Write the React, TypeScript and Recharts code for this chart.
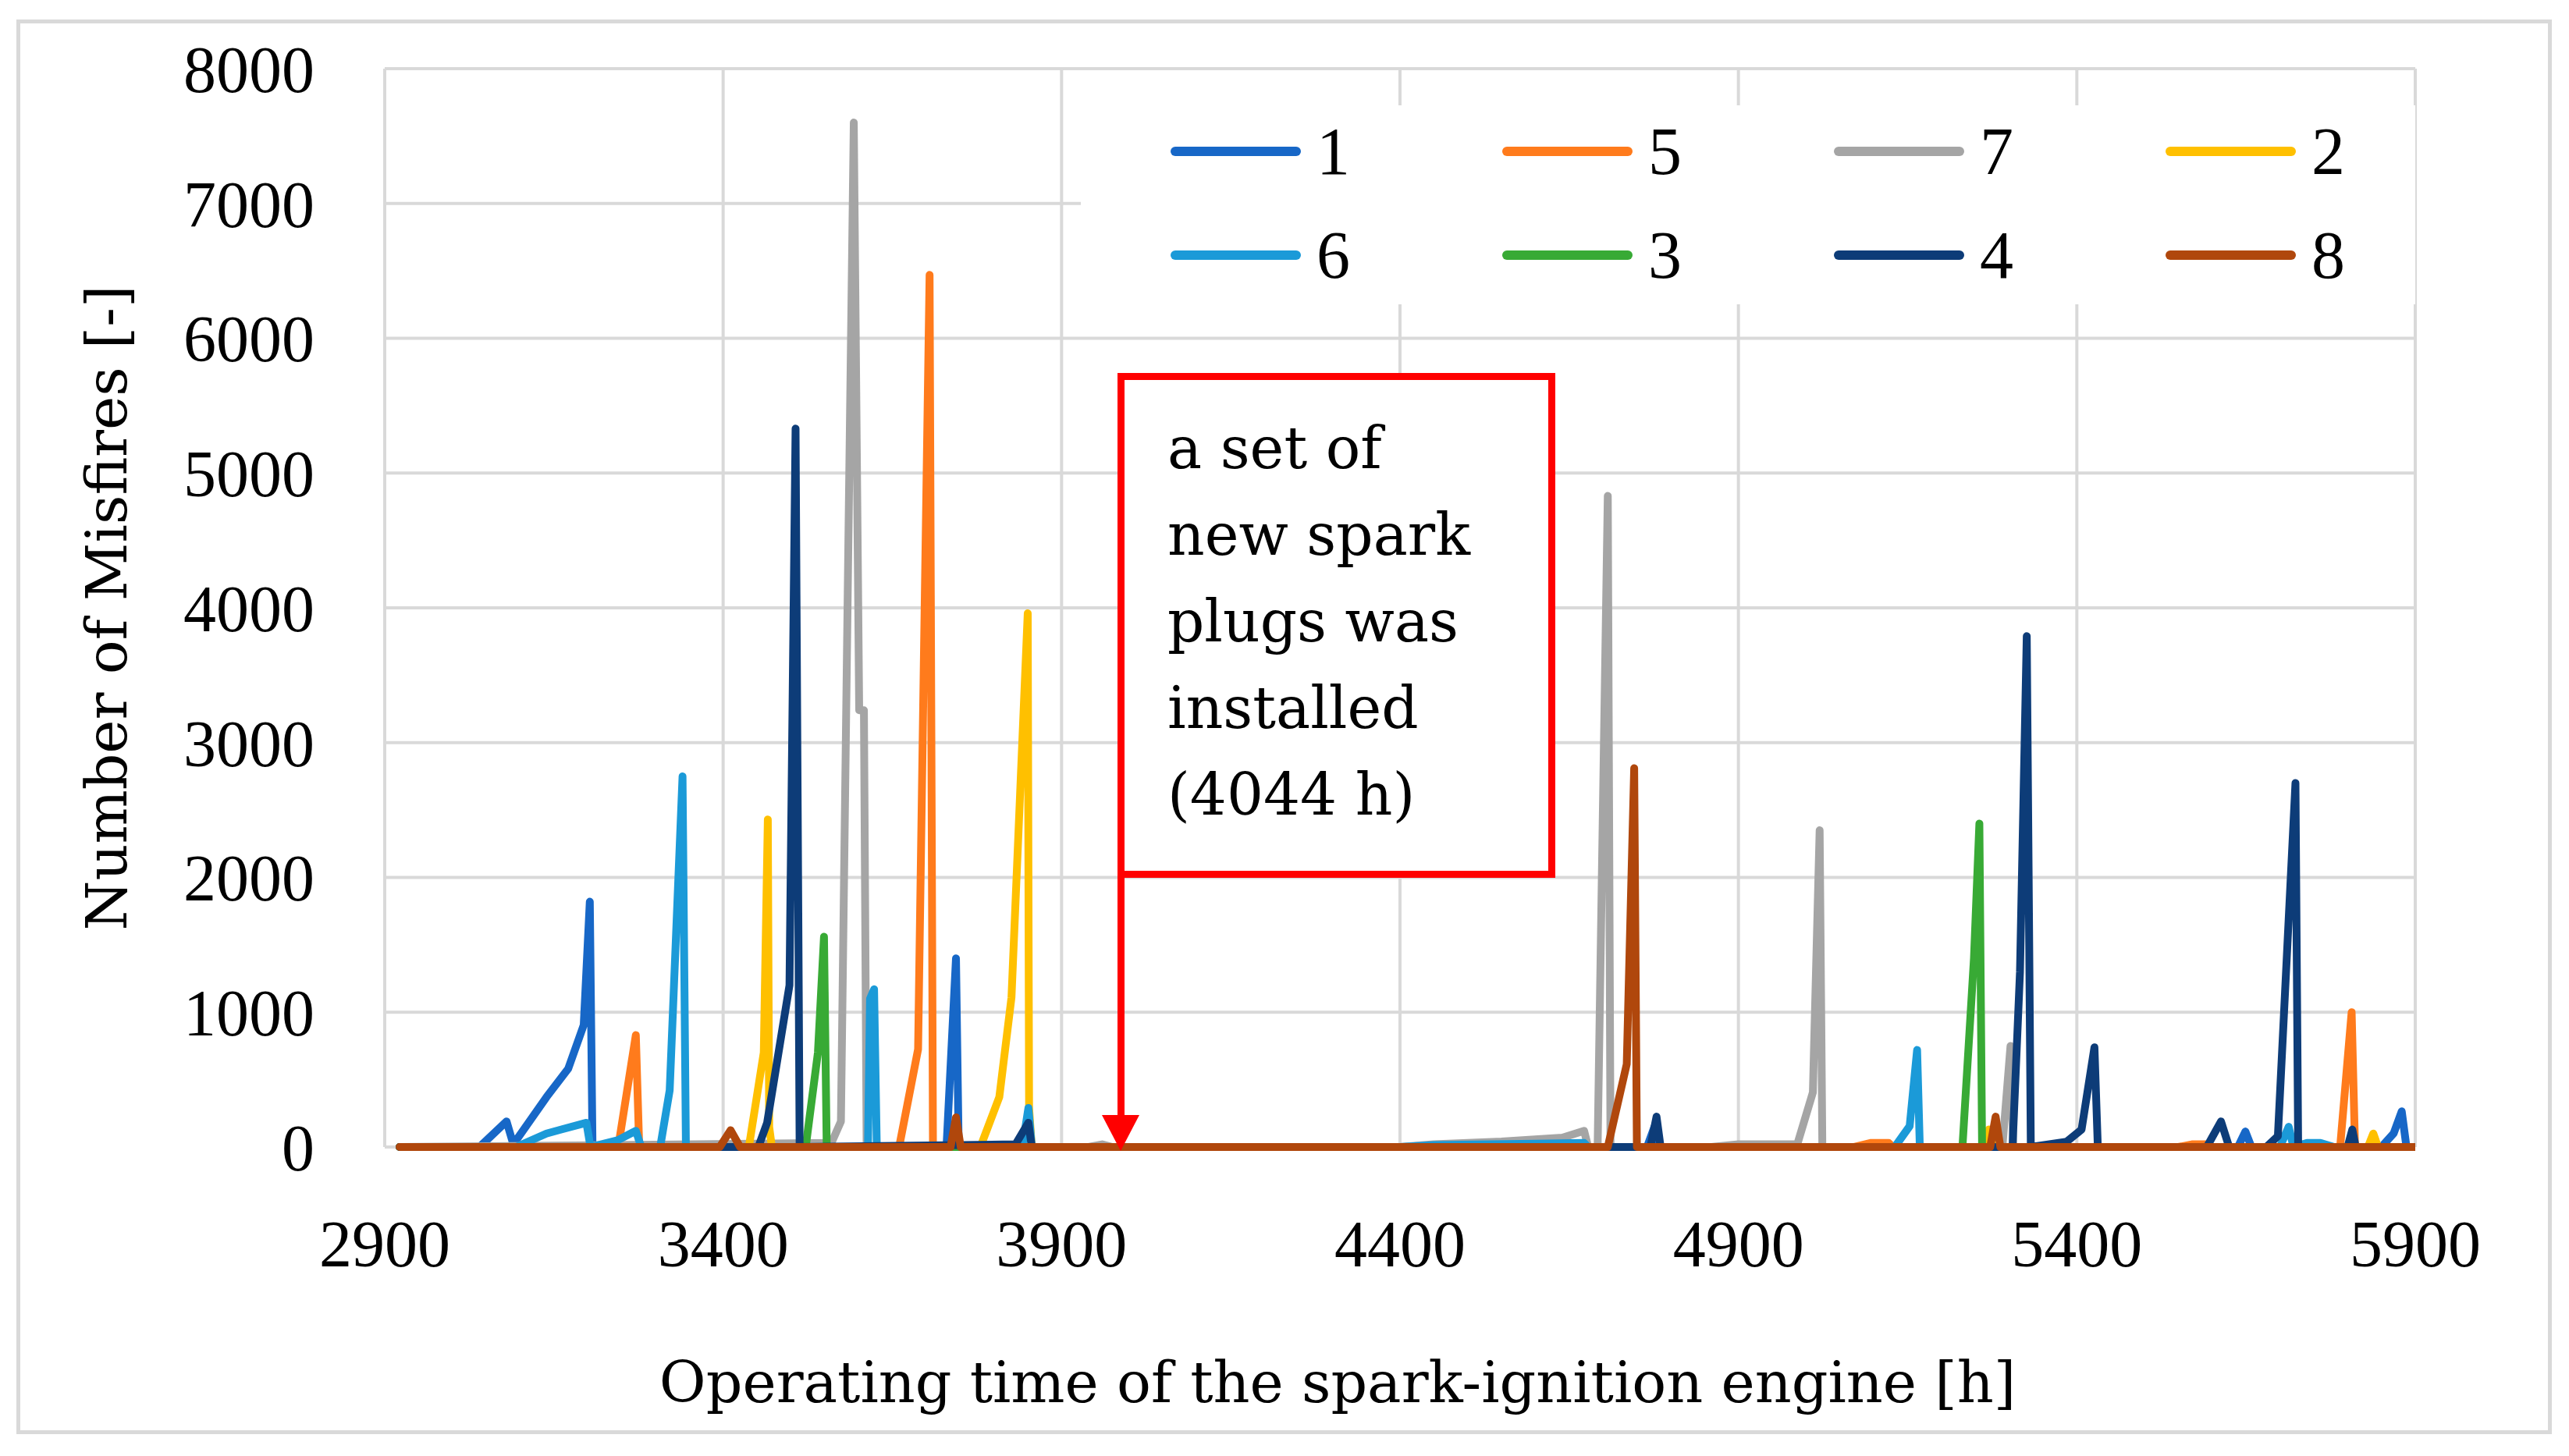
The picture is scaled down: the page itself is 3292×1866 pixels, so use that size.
import React from 'react';
import { LineChart, Line, XAxis, YAxis, CartesianGrid, Legend } from 'recharts';

const WORD_FONT = '"DejaVu Serif", serif';
const NUM_FONT = '"Liberation Serif", serif';

const hourTicks = [2900, 3400, 3900, 4400, 4900, 5400, 5900];
const countTicks = [0, 1000, 2000, 3000, 4000, 5000, 6000, 7000, 8000];

// misfires per cylinder
const hours1 = [2922, 3040, 3080, 3090, 3139, 3171, 3194, 3203, 3207, 3730, 3744, 3748, 4765, 4776, 4782, 5638, 5649, 5658, 5850, 5868, 5880, 5887, 5900];
const counts1 = [0, 0, 190, 20, 370, 580, 905, 1820, 0, 0, 1400, 0, 0, 150, 0, 0, 115, 0, 0, 100, 265, 0, 0];

const hours5 = [2922, 3245, 3271, 3276, 3660, 3688, 3705, 3710, 5070, 5095, 5122, 5128, 5355, 5370, 5380, 5550, 5570, 5590, 5600, 5789, 5806, 5811, 5900];
const counts5 = [0, 0, 830, 0, 0, 725, 6470, 0, 0, 30, 30, 0, 0, 20, 0, 0, 20, 20, 0, 0, 1000, 0, 0];

const hours7 = [2922, 3560, 3574, 3593, 3601, 3608, 3612, 3940, 3960, 3975, 4400, 4450, 4550, 4640, 4672, 4678, 4692, 4707, 4711, 4860, 4900, 4987, 5010, 5020, 5024, 5290, 5302, 5306, 5900];
const counts7 = [0, 30, 190, 7600, 3240, 3240, 0, 0, 20, 0, 0, 20, 40, 70, 120, 0, 0, 4830, 0, 0, 20, 20, 405, 2350, 0, 0, 750, 0, 0];

const hours2 = [2922, 3438, 3460, 3466, 3468, 3472, 3780, 3808, 3826, 3850, 3852, 3856, 5262, 5270, 5276, 5830, 5838, 5845, 5900];
const counts2 = [0, 0, 700, 2430, 150, 0, 0, 370, 1110, 3960, 290, 0, 0, 130, 0, 0, 100, 0, 0];

const hours6 = [2922, 3094, 3139, 3161, 3198, 3204, 3244, 3271, 3279, 3307, 3321, 3340, 3345, 3614, 3617, 3623, 3627, 3842, 3851, 3856, 4400, 4450, 4600, 4672, 4678, 5131, 5153, 5164, 5168, 5700, 5713, 5720, 5740, 5760, 5780, 5900];
const counts6 = [0, 0, 100, 130, 180, 0, 50, 120, 0, 0, 420, 2750, 0, 0, 1100, 1170, 0, 0, 290, 0, 0, 15, 25, 30, 0, 0, 155, 720, 0, 0, 150, 0, 30, 30, 0, 0];

const hours3 = [2922, 3522, 3540, 3549, 3553, 5231, 5248, 5256, 5260, 5900];
const counts3 = [0, 0, 700, 1560, 0, 0, 1400, 2400, 0, 0];

const hours4 = [2922, 3452, 3465, 3498, 3507, 3513, 3832, 3851, 3856, 4770, 4779, 4785, 5305, 5316, 5326, 5332, 5385, 5407, 5426, 5431, 5592, 5613, 5625, 5680, 5697, 5723, 5727, 5800, 5807, 5812, 5900];
const counts4 = [0, 0, 180, 1200, 5330, 0, 20, 180, 0, 0, 225, 0, 0, 1300, 3790, 0, 40, 130, 740, 0, 0, 190, 0, 0, 80, 2700, 0, 0, 130, 0, 0];

const hours8 = [2922, 3395, 3411, 3425, 3736, 3744, 3751, 4707, 4735, 4746, 4750, 5272, 5280, 5287, 5900];
const counts8 = [0, 0, 125, 0, 0, 220, 0, 0, 615, 2810, 0, 0, 225, 0, 0];

const toPoints = (hours: number[], counts: number[]) =>
  hours.map((hour, i) => ({ hour, count: counts[i] }));

// same order as the legend reads: 1 5 7 2 / 6 3 4 8
const series = [
  { name: '1', color: '#1767c7', points: toPoints(hours1, counts1) },
  { name: '5', color: '#ff7b1c', points: toPoints(hours5, counts5) },
  { name: '7', color: '#a5a5a5', points: toPoints(hours7, counts7) },
  { name: '2', color: '#ffc000', points: toPoints(hours2, counts2) },
  { name: '6', color: '#1b9ad8', points: toPoints(hours6, counts6) },
  { name: '3', color: '#38aa35', points: toPoints(hours3, counts3) },
  { name: '4', color: '#0d3c78', points: toPoints(hours4, counts4) },
  { name: '8', color: '#b0470c', points: toPoints(hours8, counts8) },
];

// recharts sorts the payload by name, so lay the legend out from the series list itself
const renderLegend = () => (
  <div style={{ position: 'relative', width: '100%', height: '100%', background: '#fff' }}>
    {series.map((s, i) => (
      <div
        key={s.name}
        style={{
          position: 'absolute',
          left: 115 + (i % 4) * 425,
          top: 59 + Math.floor(i / 4) * 133,
          transform: 'translateY(-50%)',
          display: 'flex',
          alignItems: 'center',
        }}
      >
        <span style={{ display: 'block', width: 167, height: 12, borderRadius: 6, background: s.color, marginRight: 20 }} />
        <span style={{ fontFamily: NUM_FONT, fontSize: 86, lineHeight: 1, color: '#000' }}>{s.name}</span>
      </div>
    ))}
  </div>
);

const App = () => {
  return (
    <div style={{ position: 'absolute', left: 0, top: 0, width: 3292, height: 1866, background: '#fff', fontFamily: WORD_FONT }}>
      <div style={{ position: 'absolute', left: 21, top: 25, width: 3249, height: 1813, border: '5px solid #d9d9d9', boxSizing: 'border-box' }} />

      <LineChart width={3292} height={1866} margin={{ top: 88, right: 197, left: 20, bottom: 26 }}>
        <CartesianGrid stroke="#d9d9d9" strokeWidth={4} />
        <XAxis
          dataKey="hour"
          type="number"
          domain={[2900, 5900]}
          ticks={hourTicks}
          interval={0}
          allowDataOverflow
          height={370}
          axisLine={false}
          tickLine={false}
          tickSize={0}
          tickMargin={93}
          tick={{ fill: '#000', fontSize: 84, fontFamily: NUM_FONT }}
          label={{
            value: 'Operating time of the spark-ignition engine [h]',
            position: 'insideBottom',
            offset: 43,
            dx: -80,
            style: { fill: '#000', fontSize: 73, fontFamily: WORD_FONT },
          }}
        />
        <YAxis
          type="number"
          domain={[0, 8000]}
          ticks={countTicks}
          interval={0}
          width={473}
          axisLine={false}
          tickLine={false}
          tickSize={0}
          tickMargin={90}
          tick={{ fill: '#000', fontSize: 84, fontFamily: NUM_FONT }}
          label={{
            value: 'Number of Misfires [-]',
            angle: -90,
            position: 'insideLeft',
            offset: 116,
            style: { textAnchor: 'middle', fill: '#000', fontSize: 73, fontFamily: WORD_FONT },
          }}
        />
        <Legend
          layout="horizontal"
          verticalAlign="middle"
          align="center"
          content={renderLegend}
          wrapperStyle={{ left: 1385, top: 135, width: 1710, height: 255 }}
        />
        {series.map((s) => (
          <Line
            key={s.name}
            name={s.name}
            data={s.points}
            dataKey="count"
            type="linear"
            stroke={s.color}
            strokeWidth={10}
            strokeLinejoin="round"
            strokeLinecap="round"
            dot={false}
            activeDot={false}
            isAnimationActive={false}
          />
        ))}
      </LineChart>

      {/* note box about the spark plug change */}
      <div
        style={{
          position: 'absolute',
          left: 1432,
          top: 478,
          width: 561,
          height: 647,
          border: '9px solid #ff0000',
          boxSizing: 'border-box',
          background: '#fff',
          paddingLeft: 55,
          paddingTop: 32,
          fontFamily: WORD_FONT,
          fontSize: 74,
          lineHeight: '111px',
          color: '#000',
        }}
      >
        <div>a set of</div>
        <div>new spark</div>
        <div>plugs was</div>
        <div>installed</div>
        <div>(4044 h)</div>
      </div>
      <div style={{ position: 'absolute', left: 1432, top: 1120, width: 9, height: 315, background: '#ff0000' }} />
      <div
        style={{
          position: 'absolute',
          left: 1412,
          top: 1429,
          width: 0,
          height: 0,
          borderLeft: '24.5px solid transparent',
          borderRight: '24.5px solid transparent',
          borderTop: '46px solid #ff0000',
        }}
      />
    </div>
  );
};

export default App;
